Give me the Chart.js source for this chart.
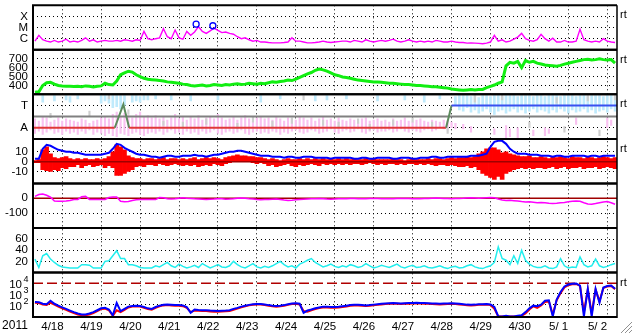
<!DOCTYPE html>
<html><head><meta charset="utf-8">
<script src="https://cdn.jsdelivr.net/npm/chart.js@4/dist/chart.umd.min.js"></script>
<style>html,body{margin:0;padding:0;background:#fff;overflow:hidden}</style>
</head><body>
<canvas id="c" width="633" height="334"></canvas>
<script>
// ---------------- data ----------------
const dateLabels = ['4/18','4/19','4/20','4/21','4/22','4/23','4/24','4/25','4/26','4/27','4/28','4/29','4/30','5/ 1','5/ 2'];
const yearLabel = '2011';
const SAMPLE = 0.1; // days between samples, first day = 4/18 00:00

// X-ray flux, units of 1e-7 W/m2
const xray = [
 6,20,8,6,5,7,5,6,9,5,
 6,5,7,12,6,8,5,6,7,6,
 6,7,6,8,7,6,8,7,45,10,
 8,10,12,80,15,10,60,12,9,45,
 20,40,120,45,30,50,90,55,35,40,
 30,25,15,10,12,8,6,7,5,5,
 4.5,4.2,4.2,4.2,4.5,5,12,6,6,5,
 4.2,4.2,4.5,5,6,5,4.5,5,5.5,6,
 6,5,7,6,5,8,6,5,6,7,
 6,7,9,6,5,6,8,6,5,6,
 5,6,5,7,6,5,5,6,5,4.5,
 4.5,4,4.2,4,3.8,3.5,4,5,20,6,
 8,5,6,9,14,30,10,7,6,8,
 25,10,6,11,5,5,7,5,5,6,
 70,8,6,5,6,5,10,6,5,4.5];
const flareT = [4.19, 4.62];
const flareV = [200, 145];
const xrayTicks = [10, 100, 1000];
const xrayTickLabels = ['C', 'M', 'X'];

// solar wind speed km/s
const speed = [
 325,328,400,430,435,415,400,395,392,390,
 388,390,385,395,390,383,390,395,425,410,
 405,450,520,540,560,550,520,500,480,470,
 465,460,455,450,440,435,430,425,415,410,
 400,395,400,405,395,400,410,405,400,410,
 405,415,420,410,415,425,420,415,425,420,
 430,440,435,445,450,460,455,470,490,510,
 530,545,570,585,575,560,540,520,510,495,
 490,480,470,460,455,450,445,440,440,435,
 430,425,425,420,415,410,410,405,400,400,
 395,390,385,385,380,375,370,360,355,350,
 345,350,355,350,355,355,375,390,405,425,
 440,620,660,650,670,600,680,660,670,650,
 640,630,625,620,615,625,640,650,660,670,
 680,690,695,685,690,700,690,685,690,650];
const speedTicks = [400, 500, 600, 700];

// panel 3 (levels: A = 1, T = 3)
const densLo = [
 0.5,0.7,0.4,0.6,0.8,0.5,0.6,0.4,0.7,0.5,
 0.6,0.4,0.7,0.5,0.8,0.4,0.6,0.5,0.3,0.5,
 0.3,0.2,0.5,0.4,0.3,0.5,0.6,0.4,0.3,0.5,
 0.6,0.5,0.7,0.4,0.6,0.8,0.5,0.6,0.4,0.7,
 0.5,0.6,0.4,0.7,0.5,0.6,0.8,0.5,0.4,0.6,
 0.7,0.5,0.6,0.8,0.5,0.4,0.6,0.7,0.5,0.6,
 0.5,0.7,0.6,0.4,0.6,0.5,0.7,0.8,0.6,0.5,
 0.6,0.8,0.7,0.5,0.6,0.7,0.9,0.6,0.5,0.7,
 0.8,0.6,0.7,0.9,0.6,0.5,0.7,0.8,0.6,0.7,
 0.7,0.8,0.6,0.7,0.9,0.7,0.6,0.8,0.7,0.6,
 0.8,0.9,0.7,0.8,1.0,0.9,0.8,1.0,0.9,null,
 0.9,null,0.6,null,null,null,null,null,0.4,null,
 null,0.1,0.2,null,0.1,null,null,null,0.3,null,
 null,0.3,0.5,null,null,null,null,null,null,1.3,
 null,null,null,null,null,null,null,1.0,1.2,null];
const densHi = [
 1.8,1.6,2.0,1.9,1.5,1.7,1.9,1.6,1.8,1.7,
 1.6,1.5,1.8,1.7,1.4,1.6,1.7,1.9,2.0,1.8,
 2.2,2.4,2.0,2.3,2.1,1.9,2.2,2.4,2.0,2.1,
 1.9,2.1,1.8,2.0,1.7,1.9,2.2,1.8,2.0,1.7,
 2.0,1.8,2.1,1.7,1.9,2.0,1.8,2.2,1.9,1.7,
 1.8,2.0,1.7,1.9,2.1,1.8,1.6,1.9,2.0,1.8,
 1.9,1.7,2.0,1.8,1.6,1.9,1.8,1.7,2.0,1.9,
 1.7,1.9,1.6,1.8,2.0,1.7,1.8,1.6,1.9,1.7,
 1.6,1.8,1.7,1.5,1.8,1.9,1.6,1.7,1.8,1.6,
 1.7,1.5,1.8,1.6,1.7,1.9,1.6,1.5,1.7,1.8,
 1.6,1.5,1.7,1.6,1.5,1.7,1.6,1.5,1.4,null,
 1.3,null,1.1,null,null,null,null,null,0.9,null,
 null,1.2,0.9,null,1.0,null,null,null,0.8,null,
 null,1.0,0.9,null,null,null,null,null,null,1.9,
 null,null,null,null,null,null,null,1.9,1.7,null];
const tempLo = [
 null,null,3.3,null,null,3.4,null,null,3.5,3.3,
 null,3.6,null,null,null,null,null,3.2,3.4,3.2,
 2.8,2.9,2.7,3.0,null,3.3,3.4,3.3,3.5,3.5,
 null,3.6,null,null,null,3.5,null,null,null,null,
 3.4,null,null,null,null,null,null,3.5,null,null,
 null,null,null,null,null,null,null,null,3.3,null,
 null,null,null,3.6,null,null,null,null,null,null,
 null,null,3.4,null,null,3.5,null,null,null,null,
 3.6,null,null,null,null,null,null,null,3.4,null,
 null,null,null,null,null,3.5,null,null,null,null,
 3.3,null,null,null,3.6,null,null,null,3.0,2.6,
 2.5,2.8,2.4,2.6,2.3,2.5,2.7,2.4,2.2,2.5,
 2.6,2.3,2.5,2.7,2.4,2.6,2.3,2.5,2.7,2.4,
 2.6,2.5,2.3,2.6,2.4,2.7,2.5,2.3,2.6,2.4,
 2.5,2.7,2.4,2.6,2.3,2.5,2.6,2.4,2.7,2.5];
const tempHi = [
 null,null,3.9,null,null,3.9,null,null,3.9,3.8,
 null,3.9,null,null,null,null,null,3.9,3.9,3.8,
 3.9,3.9,3.9,3.9,null,3.9,3.9,3.8,3.9,3.9,
 null,3.9,null,null,null,3.9,null,null,null,null,
 3.9,null,null,null,null,null,null,3.9,null,null,
 null,null,null,null,null,null,null,null,3.9,null,
 null,null,null,3.9,null,null,null,null,null,null,
 null,null,3.9,null,null,3.9,null,null,null,null,
 3.9,null,null,null,null,null,null,null,3.9,null,
 null,null,null,null,null,3.9,null,null,null,null,
 3.9,null,null,null,3.9,null,null,null,3.8,3.9,
 3.9,3.9,3.8,3.9,3.7,3.9,3.9,3.8,3.9,3.9,
 3.8,3.9,3.9,3.9,3.8,3.9,3.9,3.9,3.8,3.9,
 3.9,3.8,3.9,3.9,3.9,3.8,3.9,3.9,3.9,3.8,
 3.9,3.9,3.8,3.9,3.9,3.9,3.8,3.9,3.9,3.8];
const greyBin = [4,14,19,24,33,38,44,52,56,61,66,69,74,78,83,86,92,97,102,106,113,120,127,134,136,142,145,149];
const greyLo  = [1.9,2.0,3.6,2.2,1.2,1.0,1.3,0.9,1.5,1.1,1.4,3.5,1.2,1.0,1.4,0.8,1.2,1.5,1.1,0.5,3.3,3.5,1.0,3.2,0.6,3.4,0.3,3.5];
const greyHi  = [2.3,2.5,3.95,2.6,1.6,1.5,1.8,1.4,2.0,1.6,1.9,3.9,1.7,1.5,1.8,1.3,1.7,1.9,1.5,1.0,3.9,3.95,1.5,3.7,1.1,3.9,0.8,3.9];
const modeT = [0, 2.1, 2.32, 2.47, 10.61, 10.75, 15];
const modeV = [1, 1, 3.1, 1, 1, 3, 3];
const midLevel = 2;
const p3Ticks = [1, 3];
const p3TickLabels = ['A', 'T'];

// IMF Bt and Bz (nT)
const bt = [
 3,3,13,17,16,14,12,11,10,10,
 9,9,8,7,7,7,7,7,8,9,
 13,18,17,14,12,10,8,7,7,6,
 5,5,4,5,6,6,5,5,6,6,
 6,7,6,6,5,6,7,7,8,9,
 10,10,11,11,10,9,8,7,6,6,
 6,5,5,5,4,5,5,4,4,5,
 5,5,4,4,4,4,3,4,4,4,
 4,4,3,3,4,4,3,3,4,4,
 4,4,3,3,4,4,4,3,3,4,
 4,4,5,5,4,4,5,5,5,5,
 5,5,6,6,6,7,8,15,20,21,
 21,18,13,10,8,8,8,7,7,7,
 6,6,6,5,6,6,5,5,6,6,
 6,6,5,6,6,5,6,6,6,6];
const bzLo = [
 -1,-1,-8,-9,-10,-8,-9,-6,-7,-5,
 -5,-3,-6,-4,-3,-5,-4,-3,-6,-4,
 -6,-14,-14,-12,-10,-8,-5,-4,-5,-3,
 -3,-4,-2,-3,-4,-3,-2,-3,-4,-3,
 -4,-3,-5,-4,-3,-4,-2,-3,-4,-2,
 -1,0,1,0,1,0,-1,-2,-1,-2,
 -4,-3,-5,-4,-3,-2,-4,-5,-3,-4,
 -3,-2,-3,-4,-2,-3,-2,-3,-2,-3,
 -2,-3,-2,-2,-3,-2,-1,-2,-3,-2,
 -3,-2,-2,-3,-2,-3,-2,-2,-3,-2,
 -3,-2,-3,-4,-3,-3,-4,-3,-4,-5,
 -5,-4,-6,-5,-8,-12,-14,-16,-18,-15,
 -18,-12,-10,-8,-7,-6,-7,-6,-7,-6,
 -6,-7,-6,-5,-7,-6,-5,-7,-6,-6,
 -5,-7,-6,-6,-5,-7,-6,-5,-6,-7];
const bzHi = [
 1,2,12,15,8,4,3,4,5,3,
 2,3,2,3,2,2,3,2,3,5,
 10,17,15,12,6,4,3,3,2,3,
 3,2,3,4,2,3,3,2,3,2,
 3,4,2,3,4,3,4,3,2,4,
 5,6,7,6,6,5,5,4,4,3,
 2,3,2,1,2,3,2,2,3,2,
 3,2,3,2,3,2,3,2,3,2,
 3,2,3,2,2,3,2,3,2,2,
 2,2,3,2,2,1,2,3,2,2,
 2,3,2,3,3,2,3,4,3,4,
 4,5,4,5,8,10,13,14,14,12,
 9,10,8,7,6,5,5,6,4,4,
 5,4,3,5,4,5,4,3,5,4,
 4,3,5,4,3,4,5,4,3,4];
const bTicks = [-10, 0, 10];

// Dst (nT)
const dst = [
 13,25,29,20,7,-18,-20,-20,-19,-15,
 -9,-8,10,13,-8,-9,-9,-9,-8,5,
 9,8,-20,-24,-22,-15,-10,-9,-9,-9,
 -8,-9,5,3,-3,-5,-3,0,3,0,
 -2,-4,-5,-6,-8,-6,-5,-3,-4,-6,
 -5,-3,0,2,0,-3,-5,-8,-10,-9,
 -8,-6,-5,-8,-12,-15,-13,-10,-8,-6,
 -5,-4,-3,-2,-3,-5,-6,-5,-4,-3,
 -3,-2,-2,-3,-4,-3,-2,-1,-2,-3,
 -3,-4,-3,-2,-2,-1,-2,-3,-4,-3,
 -2,-1,0,1,0,-1,-2,-3,-2,-1,
 0,2,3,2,0,2,4,5,3,-5,
 -12,-15,-14,-16,-18,-22,-25,-24,-27,-30,
 -28,-30,-33,-35,-33,-30,-28,-24,-20,-18,
 -20,-30,-38,-40,-36,-30,-25,-22,-30,-40];
const dstTicks = [-100, 0];

// cyan index
const cyanIdx = [
 24,9,30,34,24,18,13,10,9,8,
 8,8,14,14,13,8,8,8,20,21,
 30,39,25,25,14,14,12,9,8,8,
 8,12,10,14,18,12,9,15,11,8,
 10,13,9,16,12,8,11,14,10,9,
 12,20,14,10,8,12,16,10,8,11,
 9,12,16,20,14,10,12,8,15,18,
 22,25,18,14,10,12,15,11,9,12,
 10,14,12,9,11,16,12,8,10,13,
 11,9,12,15,10,8,11,13,9,10,
 12,9,8,10,12,9,7,10,11,8,
 9,12,14,10,8,7,10,12,18,46,
 25,22,14,30,16,40,22,15,11,9,
 9,12,8,7,10,25,12,8,10,9,
 28,14,10,12,24,12,9,11,14,16];
const cyanTicks = [20, 40, 60];

// particle flux
const fluxBlue = [
 180,170,120,110,230,120,80,55,40,28,
 20,15,12,12,15,20,30,45,50,35,
 10,140,25,40,65,75,80,75,60,45,
 40,60,80,95,100,95,90,90,85,60,
 17,35,32,30,30,28,27,26,27,28,
 30,40,50,65,80,95,110,115,115,105,
 90,80,75,80,90,110,130,135,120,17,
 28,35,45,55,65,65,60,60,62,70,
 80,90,95,95,90,85,90,100,110,120,
 130,135,140,135,130,135,140,145,150,145,
 140,135,130,125,120,125,130,135,130,120,
 110,100,95,100,110,110,115,105,60,8,
 8,9,8,8,9,10,20,45,80,70,
 100,230,250,8,300,1500,5000,7500,9000,9500,
 6000,8,3000,8,3000,150,4000,5500,6000,3000];
const fluxRed = [
 150,140,100,95,150,100,65,45,32,22,
 16,12,10,10,12,16,25,38,42,30,
 9,30,20,32,55,65,70,65,50,38,
 33,50,70,85,90,85,80,78,72,50,
 20,28,27,25,25,23,22,22,23,24,
 25,33,42,55,70,85,95,100,100,90,
 78,70,65,70,80,95,115,120,105,25,
 22,30,38,48,55,55,52,50,53,60,
 68,78,82,82,78,75,78,88,95,105,
 112,118,122,118,112,118,122,128,130,126,
 122,118,112,108,105,108,112,118,112,105,
 95,88,82,88,95,95,100,90,40,8,
 8,8,8,8,8,9,15,35,70,50,
 85,180,200,12,250,1200,4000,6500,8000,8500,
 5500,20,2500,15,2500,200,3500,5000,5500,2800];
const fluxThreshold = 10000;
const fluxTicks = [100, 1000, 10000];

// ---------------- helpers ----------------
const tOf = i => (i + 0.5) * SAMPLE;
const pts = arr => arr.map((v, i) => ({x: tOf(i), y: v}));
const bands = (lo, hi) => lo.map((v, i) => ({x: tOf(i), y: (v == null || hi[i] == null) ? null : [v, hi[i]]})).filter(p => p.y !== null);
const flat = v => [{x: 0, y: v}, {x: dateLabels.length, y: v}];
const halfDays = [];
for (let d = 0; d <= dateLabels.length * 2; d++) halfDays.push(d / 2);

Chart.defaults.font.family = '"Liberation Sans", Arial, sans-serif';
Chart.defaults.font.size = 11;
Chart.defaults.color = '#000';

function yAxis(weight, opts) {
  const ticks = opts.ticks, labels = opts.labels;
  return {
    type: opts.type || 'linear', position: 'left', stack: 'panels', stackWeight: 1, weight,
    min: opts.min, max: opts.max,
    grid: { color: opts.gridColor || '#000', lineWidth: 1, drawTicks: false },
    border: { display: false, dash: [1, 3] },
    ticks: { color: '#000', padding: 5, autoSkip: false, font: { size: 11.5 },
      callback: v => { const k = ticks.indexOf(v); return labels ? (k >= 0 ? labels[k] : '') : String(v); } },
    afterBuildTicks: sc => { sc.ticks = ticks.map(v => ({value: v})); },
    afterFit: sc => { sc.width = 33; sc.paddingTop = 0; sc.paddingBottom = 0; }
  };
}

const lineDs = (data, axis, color, width, extra) => Object.assign({
  type: 'line', data, yAxisID: axis, xAxisID: 'x', borderColor: color, borderWidth: width,
  pointRadius: 0, tension: 0, fill: false
}, extra || {});
const barDs = (data, axis, color, thick, extra) => Object.assign({
  type: 'bar', data, yAxisID: axis, xAxisID: 'x', backgroundColor: color, borderWidth: 0,
  barThickness: thick, grouped: false
}, extra || {});

const modeColor = ctx => {
  const a = ctx.p0.parsed.y, b = ctx.p1.parsed.y;
  if (a === 1 && b === 1) return '#e03838';
  if (a === 3 && b === 3) return '#3a50f0';
  return '#5c8a5c';
};

const datasets = [
  // panel 1
  lineDs(flareT.map((t, i) => ({x: t, y: flareV[i]})), 'y1', '#0000ff', 0,
    { showLine: false, pointRadius: 3, pointBorderColor: '#0000ff', pointBackgroundColor: 'rgba(0,0,0,0)', pointBorderWidth: 1.3, order: 0 }),
  lineDs(pts(xray), 'y1', '#ff00ff', 1.4, { order: 1 }),
  // panel 2
  lineDs(pts(speed), 'y2', '#11ee11', 3, { order: 1 }),
  // panel 3
  lineDs(modeT.map((t, i) => ({x: t, y: modeV[i]})), 'y3', '#e03838', 2, { segment: { borderColor: modeColor }, order: 0 }),
  lineDs(flat(midLevel), 'y3', '#808080', 2, { order: 1 }),
  barDs(greyBin.map((b, k) => ({x: tOf(b), y: [greyLo[k], greyHi[k]]})), 'y3', '#cfcfcf', 1.5, { order: 4 }),
  barDs(bands(tempLo, tempHi), 'y3', '#bfeafc', 2, { order: 5 }),
  barDs(bands(densLo, densHi), 'y3', '#f9c2f1', 1.5, { order: 6 }),
  // panel 4
  lineDs(pts(bt), 'y4', '#0000ff', 2, { order: 0 }),
  lineDs(flat(0), 'y4', '#a00000', 1.5, { order: 1 }),
  barDs(bands(bzLo, bzHi), 'y4', '#ff0000', 4, { order: 2 }),
  // panel 5
  lineDs(flat(0), 'y5', '#a00000', 1.5, { order: 2 }),
  lineDs(pts(dst), 'y5', '#ff00ff', 1.5, { order: 1 }),
  // panel 6
  lineDs(pts(cyanIdx), 'y6', '#22eeee', 1.5, { order: 1 }),
  // panel 7
  lineDs(flat(fluxThreshold), 'y7', '#b00000', 1.5, { borderDash: [10, 4], order: 3 }),
  lineDs(pts(fluxRed), 'y7', '#ff0000', 2, { order: 2 }),
  lineDs(pts(fluxBlue), 'y7', '#0000ff', 2, { order: 1 })
];

const panelIds = ['y1','y2','y3','y4','y5','y6','y7'];
const rtPanels = ['y1','y2','y3','y4','y7'];

const overlay = {
  id: 'overlay',
  afterDatasetsDraw(chart) {
    const {ctx, chartArea: ca} = chart;
    ctx.save();
    ctx.strokeStyle = '#000';
    ctx.lineWidth = 2;
    panelIds.forEach(id => {
      const s = chart.scales[id];
      [s.top, s.bottom].forEach(y => { ctx.beginPath(); ctx.moveTo(ca.left - 1, y); ctx.lineTo(ca.right, y); ctx.stroke(); });
    });
    ctx.beginPath(); ctx.moveTo(ca.left, ca.top); ctx.lineTo(ca.left, ca.bottom); ctx.stroke();
    ctx.lineWidth = 1.5;
    ctx.beginPath(); ctx.moveTo(ca.right, ca.top); ctx.lineTo(ca.right, ca.bottom + 1); ctx.stroke();
    ctx.restore();
  },
  afterDraw(chart) {
    const {ctx, chartArea: ca} = chart;
    ctx.save();
    ctx.fillStyle = '#000';
    ctx.font = '11px "Liberation Sans", Arial, sans-serif';
    ctx.textAlign = 'left'; ctx.textBaseline = 'middle';
    rtPanels.forEach(id => { ctx.fillText('rt', ca.right + 3, chart.scales[id].top + 10); });
    ctx.font = '12px "Liberation Sans", Arial, sans-serif';
    ctx.textAlign = 'center';
    ctx.fillText(yearLabel, 15, ca.bottom + 9);
    const s7 = chart.scales.y7;
    fluxTicks.forEach(v => {
      const y = s7.getPixelForValue(v);
      ctx.font = '11.5px "Liberation Sans", Arial, sans-serif';
      ctx.textAlign = 'right';
      ctx.fillText('10', s7.right - 11, y + 2);
      ctx.font = '9px "Liberation Sans", Arial, sans-serif';
      ctx.textAlign = 'left';
      ctx.fillText(String(Math.round(Math.log10(v))), s7.right - 9.5, y - 3.5);
    });
    // window resize grip
    ctx.strokeStyle = '#909090'; ctx.lineWidth = 1;
    [[621, 333, 632, 322], [625, 333, 632, 326], [629, 333, 632, 330]].forEach(l => {
      ctx.beginPath(); ctx.moveTo(l[0], l[1]); ctx.lineTo(l[2], l[3]); ctx.stroke();
    });
    ctx.restore();
  }
};

new Chart(document.getElementById('c'), {
  type: 'line',
  data: { datasets },
  options: {
    responsive: false, animation: false, events: [],
    layout: { padding: { left: 0, top: 2, right: 16, bottom: 0 } },
    plugins: { legend: { display: false }, tooltip: { enabled: false }, title: { display: false } },
    scales: {
      x: {
        type: 'linear', position: 'bottom', min: 0, max: dateLabels.length, offset: false,
        afterBuildTicks: sc => { sc.ticks = halfDays.map(v => ({value: v})); },
        grid: { color: c => (c.tick && c.tick.value % 1 === 0) ? '#000' : 'rgba(0,0,0,0)', drawTicks: false, lineWidth: 1 },
        border: { display: false, dash: [1, 3] },
        ticks: { autoSkip: false, maxRotation: 0, minRotation: 0, padding: 3, color: '#000', font: { size: 11.5 },
          callback: v => (v % 1 === 0.5) ? dateLabels[Math.floor(v)] : '' },
        afterFit: sc => { sc.height = 17; sc.paddingLeft = 0; sc.paddingRight = 0; }
      },
      y1: yAxis(7, { type: 'logarithmic', min: 1, max: 10000, ticks: xrayTicks, labels: xrayTickLabels }),
      y2: yAxis(6, { min: 300, max: 800, ticks: speedTicks }),
      y3: yAxis(5, { min: 0, max: 4, ticks: p3Ticks, labels: p3TickLabels }),
      y4: yAxis(4, { min: -22, max: 23, ticks: bTicks }),
      y5: yAxis(3, { min: -200, max: 100, ticks: dstTicks }),
      y6: yAxis(2, { min: 0, max: 80, ticks: cyanTicks }),
      y7: yAxis(1, { type: 'logarithmic', min: 7, max: 100000, ticks: fluxTicks, labels: ['', '', ''],
        gridColor: c => (c.tick && c.tick.value === fluxThreshold) ? 'rgba(0,0,0,0)' : '#000' })
    }
  },
  plugins: [overlay]
});
</script>
</body></html>
